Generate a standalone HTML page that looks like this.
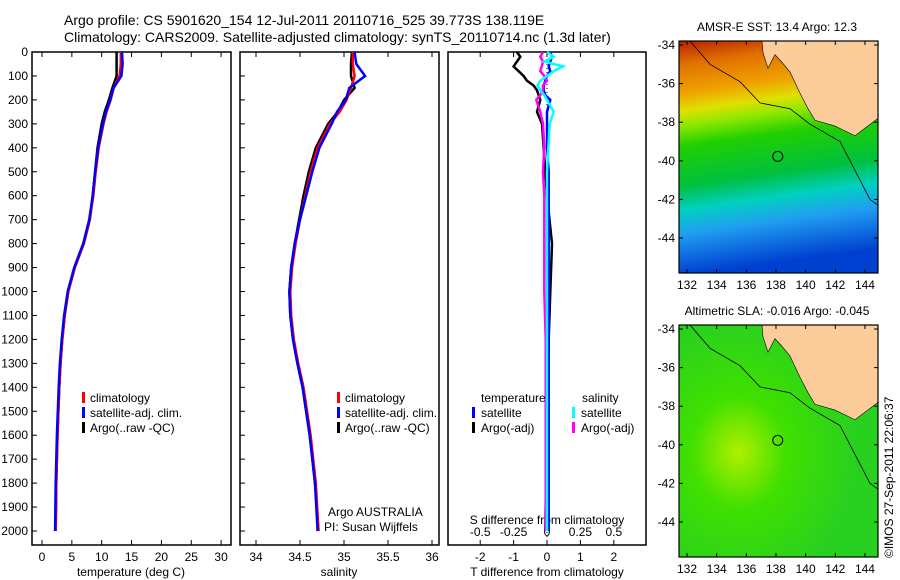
<!DOCTYPE html>
<html><head><meta charset="utf-8">
<style>
body{margin:0;background:#fff;}
svg{display:block;font-family:"Liberation Sans",sans-serif;font-size:12px;}
</style></head>
<body>
<svg id="chart" width="900" height="580" viewBox="0 0 900 580">
<text x="64" y="25" font-size="14">Argo profile: CS 5901620_154 12-Jul-2011 20110716_525 39.773S 138.119E</text>
<text x="64" y="42" font-size="14">Climatology: CARS2009. Satellite-adjusted climatology: synTS_20110714.nc (1.3d later)</text>
<g id="g"></g>
</svg>
<script>
// ---- data ----
const depths = [0,50,100,150,200,250,300,400,500,600,700,800,900,1000,1100,1200,1300,1400,1600,1800,2000];
const tempClim = [13.2,13.2,13.0,12.0,11.5,10.8,10.3,9.5,9.0,8.6,8.0,7.0,5.5,4.4,3.8,3.4,3.1,2.9,2.6,2.4,2.3];
const tempSat  = [13.4,13.5,13.3,12.0,11.4,10.7,10.2,9.4,8.9,8.5,7.9,6.9,5.4,4.3,3.7,3.3,3.0,2.8,2.5,2.3,2.2];
const tempArgo = [12.5,12.5,12.5,11.8,11.2,10.5,10.0,9.3,8.9,8.5,8.0,7.0,5.5,4.4,3.8,3.4,3.1,2.9,2.6,2.4,2.3];
const salClim = [35.1,35.1,35.12,35.08,35.03,34.95,34.84,34.7,34.62,34.56,34.5,34.45,34.41,34.39,34.4,34.43,34.48,34.54,34.62,34.68,34.71];
const salSat  = [35.12,35.14,35.24,35.06,35.02,34.92,34.86,34.72,34.64,34.57,34.5,34.44,34.4,34.38,34.39,34.42,34.47,34.53,34.61,34.67,34.7];
const salArgo = [35.09,35.08,35.08,35.12,35.0,34.93,34.82,34.68,34.6,34.54,34.49,34.44,34.4,34.38,34.39,34.42,34.47,34.53,34.61,34.67,34.71];
const diffDepths = [0,20,40,60,80,100,120,140,160,180,200,250,300,400,500,600,800,1000,1200,1500,2000];
const dTsat  = [0.1,0.15,0.1,0.05,0.1,0,-0.05,-0.1,-0.1,-0.05,0.1,0,0,0,0.05,0.05,0.05,0.05,0.05,0.05,0.05];
const dTargo = [-0.9,-0.8,-0.9,-1.0,-0.85,-0.7,-0.6,-0.4,-0.3,-0.25,-0.2,-0.3,-0.15,-0.1,-0.05,0,0.15,0.1,0.05,0,-0.05];
const dSsat  = [0,0.05,-0.02,0.12,0.05,0,-0.05,-0.07,-0.05,-0.02,0,0.05,0.02,0.01,0,0,0,0,0,0,0];
const dSargo = [-0.03,-0.05,-0.03,-0.04,-0.05,-0.02,0,-0.03,-0.03,-0.05,-0.08,-0.05,-0.03,-0.02,-0.03,-0.02,-0.02,-0.02,-0.01,-0.01,-0.01];
const depthTicks = [0,100,200,300,400,500,600,700,800,900,1000,1100,1200,1300,1400,1500,1600,1700,1800,1900,2000];
const tempTicks = [0,5,10,15,20,25,30];
const salTicks = [34,34.5,35,35.5,36];
const dTTicks = [-2,-1,0,1,2];
const dSTicks = [-0.5,-0.25,0,0.25,0.5];
const latTicks = [-34,-36,-38,-40,-42,-44];
const lonTicks = [132,134,136,138,140,142,144];

const NS="http://www.w3.org/2000/svg";
const g=document.getElementById('g');
function el(t,a,p){const e=document.createElementNS(NS,t);for(const k in a)e.setAttribute(k,a[k]);(p||g).appendChild(e);return e;}
const Y0=52,YB=545;
const yD=d=>Y0+d*0.2395;
function panel(x0,x1,name){
 const r=el('rect',{x:x0,y:Y0,width:x1-x0,height:YB-Y0,fill:'none',stroke:'#000','stroke-width':1.5});
 
 
}
function line(xs,ds,xf,col,name,w){
 const pts=xs.map((v,i)=>xf(v).toFixed(1)+','+yD(ds[i]).toFixed(1)).join(' ');
 const p=el('polyline',{points:pts,fill:'none',stroke:col,'stroke-width':w||2.5});
 
 
}
function txt(x,y,s,anchor,name,extra){
 const t=el('text',Object.assign({x:x,y:y,'text-anchor':anchor||'start'},extra||{}));t.textContent=s;
 
 
 return t;
}
// panel 1 temperature
const xT=v=>42+v*5.97;
panel(32,231,'temperature-panel');
depthTicks.forEach(d=>{el('line',{x1:32,x2:37,y1:yD(d),y2:yD(d),stroke:'#000'});txt(28,yD(d)+4,String(d),'end','depth-tick-label');});
tempTicks.forEach(v=>{el('line',{x1:xT(v),x2:xT(v),y1:YB,y2:YB-5,stroke:'#000'});el('line',{x1:xT(v),x2:xT(v),y1:Y0,y2:Y0+5,stroke:'#000'});txt(xT(v),561,String(v),'middle','temperature-tick-label');});
txt(131,576,'temperature (deg C)','middle','temperature-axis-title');
line(tempArgo,depths,xT,'#000','temp-argo-line');
line(tempClim,depths,xT,'#f00','temp-climatology-line');
line(tempSat,depths,xT,'#00f','temp-satellite-line');
[['#f00','climatology'],['#00f','satellite-adj. clim.'],['#000','Argo(..raw -QC)']].forEach((l,i)=>{
 el('rect',{x:82,y:392+i*15,width:3,height:11,fill:l[0]});txt(90,402+i*15,l[1],'start','temp-legend-entry');});
// panel 2 salinity
const xS=v=>256+(v-34)*88;
panel(240,439,'salinity-panel');
depthTicks.forEach(d=>{el('line',{x1:240,x2:245,y1:yD(d),y2:yD(d),stroke:'#000'});});
salTicks.forEach(v=>{el('line',{x1:xS(v),x2:xS(v),y1:YB,y2:YB-5,stroke:'#000'});el('line',{x1:xS(v),x2:xS(v),y1:Y0,y2:Y0+5,stroke:'#000'});txt(xS(v),561,String(v),'middle','salinity-tick-label');});
txt(339,576,'salinity','middle','salinity-axis-title');
line(salArgo,depths,xS,'#000','sal-argo-line');
line(salClim,depths,xS,'#f00','sal-climatology-line');
line(salSat,depths,xS,'#00f','sal-satellite-line');
[['#f00','climatology'],['#00f','satellite-adj. clim.'],['#000','Argo(..raw -QC)']].forEach((l,i)=>{
 el('rect',{x:337,y:392+i*15,width:3,height:11,fill:l[0]});txt(345,402+i*15,l[1],'start','sal-legend-entry');});
txt(328,516,'Argo AUSTRALIA','start','argo-australia-label');
txt(324,531,'PI: Susan Wijffels','start','pi-label');
// panel 3 differences
const xDT=v=>547+v*33.4, xDS=v=>547+v*133.6;
panel(448,646,'difference-panel');
dTTicks.forEach(v=>{el('line',{x1:xDT(v),x2:xDT(v),y1:YB,y2:YB-5,stroke:'#000'});el('line',{x1:xDT(v),x2:xDT(v),y1:Y0,y2:Y0+5,stroke:'#000'});txt(xDT(v),561,String(v),'middle','t-diff-tick-label');});
dSTicks.forEach(v=>{txt(xDS(v),536,String(v),'middle','s-diff-tick-label');});
txt(547,576,'T difference from climatology','middle','t-diff-axis-title');
txt(547,524,'S difference from climatology','middle','s-diff-axis-title');
el('line',{x1:547,x2:547,y1:Y0,y2:YB,stroke:'#000','stroke-dasharray':'1,3'});
line(dTargo,diffDepths,xDT,'#000','t-diff-argo-line');
line(dTsat,diffDepths,xDT,'#00f','t-diff-satellite-line');
line(dSargo,diffDepths,xDS,'#f0f','s-diff-argo-line');
line(dSsat,diffDepths,xDS,'#0ff','s-diff-satellite-line');
txt(481,402,'temperature','start','diff-legend-temperature-heading');
txt(582,402,'salinity','start','diff-legend-salinity-heading');
[['#00f','satellite',472],['#000','Argo(-adj)',472],['#0ff','satellite',572],['#f0f','Argo(-adj)',572]].forEach((l,i)=>{
 const yy=407+(i%2)*15; el('rect',{x:l[2],y:yy,width:3,height:11,fill:l[0]});txt(l[2]+9,yy+10,l[1],'start','diff-legend-entry');});
// maps
const defs=el('defs',{});
const g1=el('linearGradient',{id:'sst',x1:'0',y1:'0',x2:'0.12',y2:'1'},defs);
[[0,'#b82000'],[0.1,'#e07000'],[0.22,'#f0a000'],[0.3,'#e0e000'],[0.36,'#90e800'],[0.45,'#20d000'],[0.62,'#00c040'],[0.72,'#00d0c0'],[0.82,'#20a0f0'],[1,'#0040d0']].forEach(s=>el('stop',{offset:s[0],'stop-color':s[1]},g1));
const g2=el('radialGradient',{id:'sla',cx:'0.3',cy:'0.55',r:'0.6'},defs);
[[0,'#b0f000'],[0.4,'#40e000'],[1,'#28d020']].forEach(s=>el('stop',{offset:s[0],'stop-color':s[1]},g2));
function map(top,bottom,fillId,title,name){
 const x0=679,x1=878,latY=l=>top+4+(-34-l)*19.3,lonX=l=>687+(l-132)*14.83;
 const r=el('rect',{x:x0,y:top,width:x1-x0,height:bottom-top,fill:'url(#'+fillId+')'});
 
 
 const land=el('polygon',{fill:'#fccc9a',stroke:'#000','stroke-width':0.6,points:[[762,top],[x1,top],[x1,latY(-37.8)],[855,latY(-38.7)],[835,latY(-38.2)],[815,latY(-37.9)],[808,latY(-37.3)],[800,latY(-36.5)],[790,latY(-35.4)],[782,latY(-34.9)],[775,latY(-34.5)],[768,latY(-35.2)],[763,latY(-34.4)]].map(p=>p.join(',')).join(' ')});
 
 
 el('polyline',{fill:'none',stroke:'#000','stroke-width':0.8,points:[[690,top],[710,latY(-35)],[740,latY(-35.9)],[760,latY(-37)],[790,latY(-37.3)],[810,latY(-38.1)],[840,latY(-39)],[855,latY(-40.5)],[870,latY(-42)],[878,latY(-42.3)]].map(p=>p.join(',')).join(' ')});
 el('rect',{x:x0,y:top,width:x1-x0,height:bottom-top,fill:'none',stroke:'#000','stroke-width':1.2});
 el('circle',{cx:lonX(138.12),cy:latY(-39.77),r:5,fill:'none',stroke:'#000'});
 latTicks.forEach(l=>{el('line',{x1:x0,x2:x0+4,y1:latY(l),y2:latY(l),stroke:'#000'});el('line',{x1:x1,x2:x1-4,y1:latY(l),y2:latY(l),stroke:'#000'});txt(x0-4,latY(l)+4,String(l),'end','lat-tick-label');});
 lonTicks.forEach(l=>{el('line',{x1:lonX(l),x2:lonX(l),y1:bottom,y2:bottom-4,stroke:'#000'});el('line',{x1:lonX(l),x2:lonX(l),y1:top,y2:top+4,stroke:'#000'});txt(lonX(l),bottom+16,String(l),'middle','lon-tick-label');});
 txt(777,top-10,title,'middle','map-title');
}
map(41,273,'sst','AMSR-E SST: 13.4 Argo: 12.3','sst-map');
map(325,557,'sla','Altimetric SLA: -0.016 Argo: -0.045','sla-map');
txt(893,558,'©IMOS 27-Sep-2011 22:06:37','start','timestamp-label',{transform:'rotate(-90 893 558)'});
</script>
</body></html>
